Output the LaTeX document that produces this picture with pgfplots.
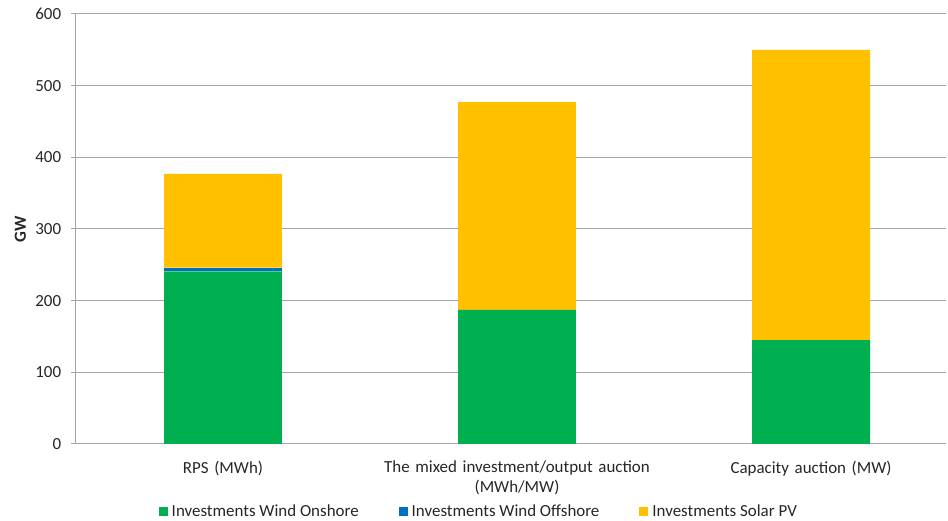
\documentclass[border=0pt]{standalone}
\usepackage{pgfplots}
\pgfplotsset{compat=1.18}
\usepackage{fontspec}
\setmainfont{Carlito}
\definecolor{onshore}{HTML}{00B050}
\definecolor{offshore}{HTML}{0070C0}
\definecolor{solar}{HTML}{FFC000}
\definecolor{gridgray}{HTML}{A6A6A6}
\definecolor{txt}{HTML}{262626}
\pgfplotsset{sqlegend/.style={legend image code/.code={\fill[##1,draw=none] (0bp,-4.5bp) rectangle (9bp,4.5bp); \path (11bp,0bp);}}}
\begin{document}
\fontsize{17}{20}\selectfont
\begin{tikzpicture}
\begin{axis}[
  name=ax, at={(0,0)}, anchor=south west,
  scale only axis, width=870bp, height=430bp,
  ybar stacked, bar width=0.401,
  xmin=-0.5, xmax=2.459, ymin=0, ymax=600,
  xtick={0,1,2},
  xticklabels={RPS (MWh), The mixed investment/output auction\\(MWh/MW), Capacity auction (MW)},
  minor xtick={-0.5,0.5,1.5},
  ytick={0,100,...,600},
  /pgf/number format/assume math mode=true,
  ymajorgrids, grid style={gridgray, line width=1bp},
  axis x line*=bottom, axis y line*=left,
  axis line style={gridgray, line width=1bp},
  every tick/.style={gridgray, line width=1bp},
  major tick length=5bp, minor tick length=5bp,
  tick align=outside,
  xtick style={draw=none},
  minor x tick style={gridgray, line width=1bp},
  separate axis lines,
  x axis line style={-}, y axis line style={-},
  tick label style={font=\fontsize{17}{20}\selectfont, text=txt},
  xticklabel style={align=center, text width=320bp, yshift=-6bp},
  yticklabel style={xshift=-4bp},
  ylabel={\textbf{GW}}, ylabel style={font=\fontsize{17}{20}\selectfont\bfseries, text=txt, yshift=-2bp},
  legend style={at={(0.463,-0.158)}, anchor=center, draw=none, fill=none,
    legend columns=3, font=\fontsize{17}{20}\selectfont, text=txt,
    /tikz/every even column/.append style={column sep=38bp}},
  legend cell align=left,
]
\addplot[fill=onshore, draw=none, sqlegend] coordinates {(0,241) (1,187) (2,145)};
\addlegendentry{Investments Wind Onshore}
\addplot[fill=offshore, draw=none, sqlegend] coordinates {(0,5) (1,0) (2,0)};
\addlegendentry{Investments Wind Offshore}
\addplot[fill=solar, draw=none, sqlegend] coordinates {(0,131) (1,290) (2,405)};
\addlegendentry{Investments Solar PV}
\end{axis}
\pgfresetboundingbox
\path ([xshift=-76bp,yshift=-77bp]ax.south west) rectangle ([xshift=2bp,yshift=14bp]ax.north east);
\end{tikzpicture}
\end{document}
